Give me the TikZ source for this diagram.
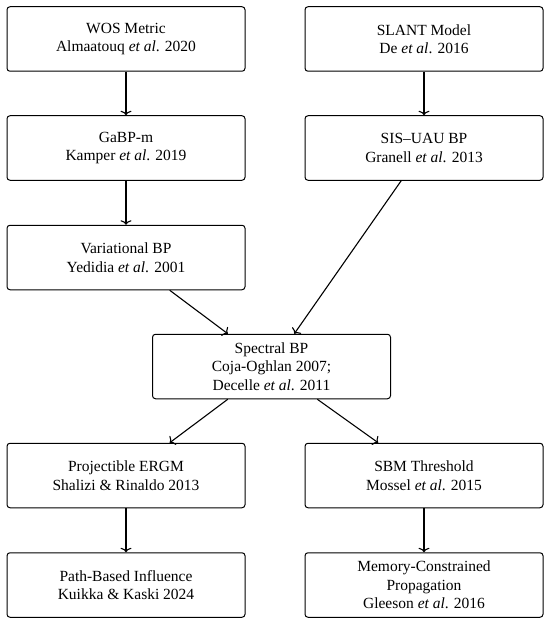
\documentclass[tikz,border=0pt]{standalone}
\usepackage{fontspec}
\setmainfont{Liberation Serif}
\usetikzlibrary{arrows.meta}
\tikzset{
  box/.style={draw, line width=1pt, rounded corners=3pt, minimum width=238pt, minimum height=64.5pt, align=center, inner sep=2pt, font=\fontsize{15.5}{18.5}\selectfont},
  conn/.style={line width=1.1pt, -{To[length=4.5pt,width=11pt]}}
}
\newcommand{\etal}{\textit{et al}.}
\begin{document}
\begin{tikzpicture}[x=1pt,y=-1pt]
\useasboundingbox (0,0) rectangle (550,623);
\node[box] (wos) at (126,39) {WOS Metric\\Almaatouq \etal{} 2020};
\node[box] (slant) at (424,39) {SLANT Model\\De \etal{} 2016};
\node[box] (gabp) at (126,148) {GaBP-m\\Kamper \etal{} 2019};
\node[box] (sis) at (424,148) {SIS--UAU BP\\Granell \etal{} 2013};
\node[box] (var) at (126,257.5) {Variational BP\\Yedidia \etal{} 2001};
\node[box] (spec) at (271.5,366.5) {Spectral BP\\Coja-Oghlan 2007;\\Decelle \etal{} 2011};
\node[box] (proj) at (126,475.5) {Projectible ERGM\\Shalizi \& Rinaldo 2013};
\node[box] (sbm) at (424,475.5) {SBM Threshold\\Mossel \etal{} 2015};
\node[box] (path) at (126,585) {Path-Based Influence\\Kuikka \& Kaski 2024};
\node[box] (mem) at (424,585) {Memory-Constrained\\Propagation\\Gleeson \etal{} 2016};
\draw[conn] (wos) -- (gabp);
\draw[conn] (gabp) -- (var);
\draw[conn] (slant) -- (sis);
\draw[conn] (var) -- (spec);
\draw[conn] (sis) -- (spec);
\draw[conn] (spec) -- (proj);
\draw[conn] (spec) -- (sbm);
\draw[conn] (proj) -- (path);
\draw[conn] (sbm) -- (mem);
\end{tikzpicture}
\end{document}
